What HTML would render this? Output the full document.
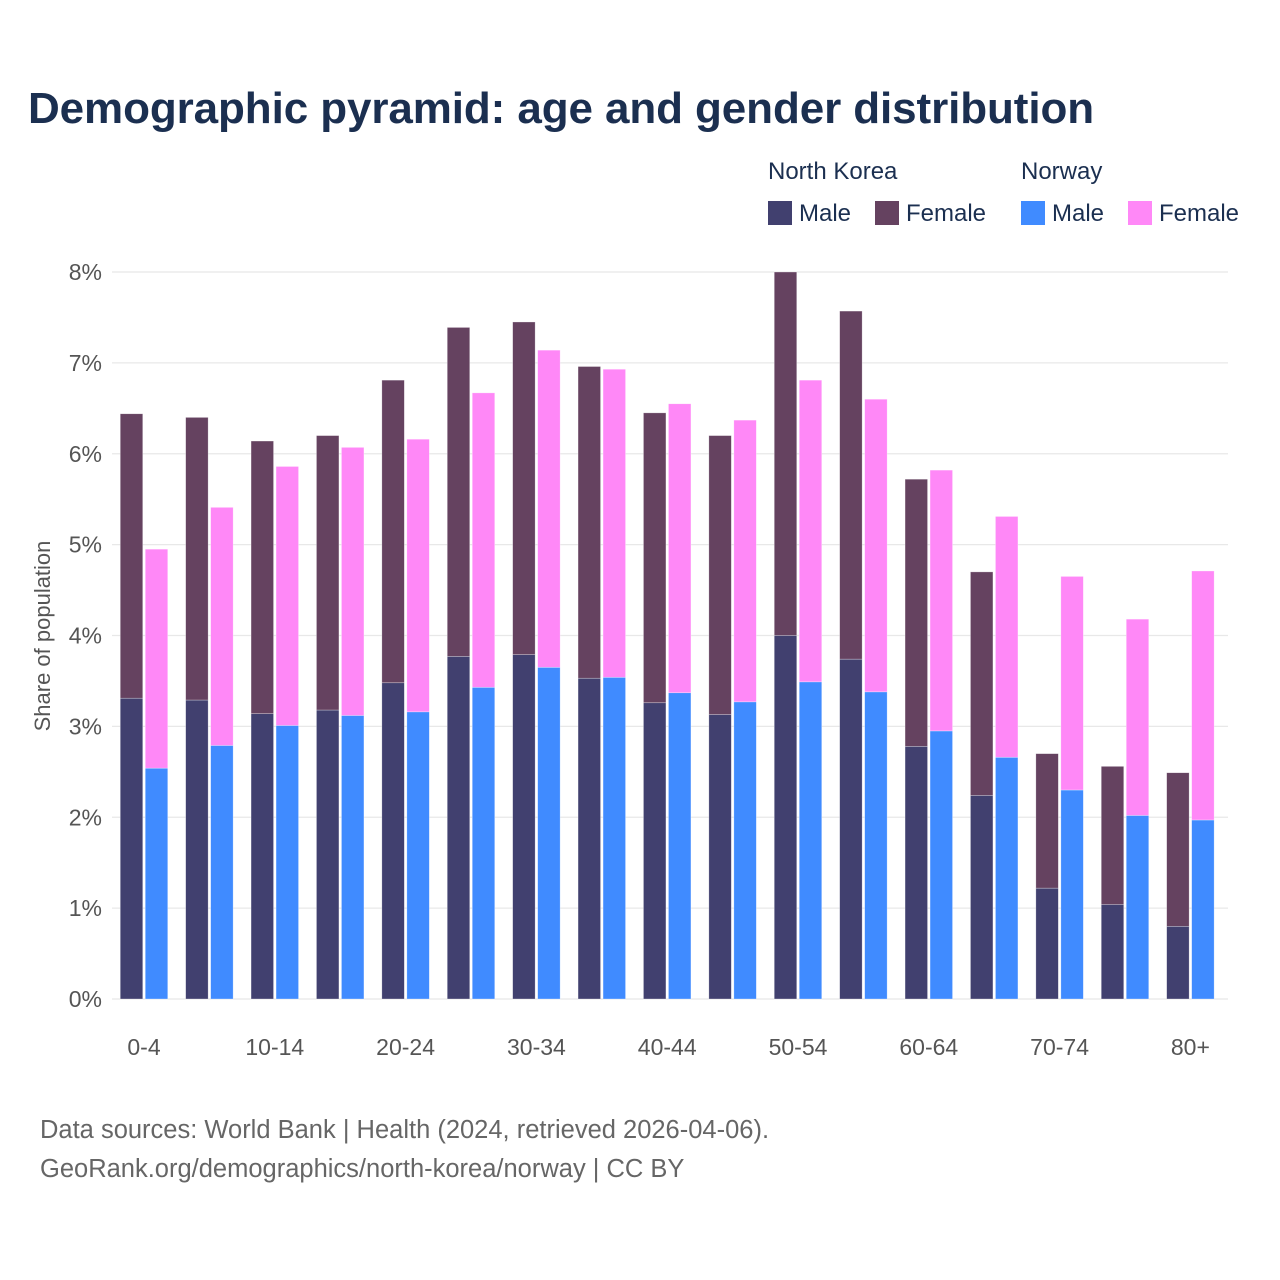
<!DOCTYPE html>
<html><head><meta charset="utf-8"><style>
body{margin:0;background:#fff;font-family:"Liberation Sans",sans-serif;}
#wrap{position:relative;width:1280px;height:1280px;overflow:hidden;}
.t{position:absolute;white-space:nowrap;}
</style></head><body>
<div id="wrap">
<div class="t" style="left:28px;top:84px;font-size:44px;font-weight:bold;color:#1b2f50;letter-spacing:-0.1px">Demographic pyramid: age and gender distribution</div>
<div class="t" style="left:768px;top:158px;font-size:24px;color:#1b2f50">North Korea</div>
<div class="t" style="left:1021px;top:158px;font-size:24px;color:#1b2f50">Norway</div>
<div style="position:absolute;left:768px;top:201px;width:24px;height:24px;background:#41406f"></div>
<div class="t" style="left:799px;top:200px;font-size:24px;color:#1b2f50">Male</div>
<div style="position:absolute;left:875px;top:201px;width:24px;height:24px;background:#654260"></div>
<div class="t" style="left:906px;top:200px;font-size:24px;color:#1b2f50">Female</div>
<div style="position:absolute;left:1021px;top:201px;width:24px;height:24px;background:#408bff"></div>
<div class="t" style="left:1052px;top:200px;font-size:24px;color:#1b2f50">Male</div>
<div style="position:absolute;left:1128px;top:201px;width:24px;height:24px;background:#ff88f7"></div>
<div class="t" style="left:1159px;top:200px;font-size:24px;color:#1b2f50">Female</div>
<svg id="chart" width="1280" height="1280" style="position:absolute;left:0;top:0"></svg>
<div class="t" style="left:40px;top:1116px;font-size:25.5px;color:#666">Data sources: World Bank | Health (2024, retrieved 2026-04-06).</div>
<div class="t" style="left:40px;top:1155px;font-size:25.5px;color:#666">GeoRank.org/demographics/north-korea/norway | CC BY</div>
</div>
<script>
const categories=["0-4","5-9","10-14","15-19","20-24","25-29","30-34","35-39","40-44","45-49","50-54","55-59","60-64","65-69","70-74","75-79","80+"];
const nkMale=[3.31,3.29,3.14,3.18,3.48,3.77,3.79,3.53,3.26,3.13,4.0,3.74,2.78,2.24,1.22,1.04,0.80];
const nkTotal=[6.44,6.40,6.14,6.20,6.81,7.39,7.45,6.96,6.45,6.20,8.0,7.57,5.72,4.70,2.70,2.56,2.49];
const noMale=[2.54,2.79,3.01,3.12,3.16,3.43,3.65,3.54,3.37,3.27,3.49,3.38,2.95,2.66,2.30,2.02,1.97];
const noTotal=[4.95,5.41,5.86,6.07,6.16,6.67,7.14,6.93,6.55,6.37,6.81,6.60,5.82,5.31,4.65,4.18,4.71];
const yTicks=[0,1,2,3,4,5,6,7,8];
const yTickLabels=["0%","1%","2%","3%","4%","5%","6%","7%","8%"];

const svg=document.getElementById('chart');
const NS='http://www.w3.org/2000/svg';
const x0=111.3,pitch=65.4,y0=999,pxPer=90.875;
const y=v=>y0-v*pxPer;
const bw=22.5,gap=2.5,pad=(pitch-2*bw-gap)/2;
function mk(tag,attrs){const e=document.createElementNS(NS,tag);for(const k in attrs)e.setAttribute(k,attrs[k]);svg.appendChild(e);return e;}
yTicks.forEach((t,i)=>{
  const l=mk('line',{x1:112,x2:1228,y1:y(t),y2:y(t),stroke:'#e8e8e8','stroke-width':1.3});
  
  
  const tx=mk('text',{x:102,y:y(t)+8,'text-anchor':'end','font-size':23,fill:'#555','font-family':'Liberation Sans, sans-serif'});
  tx.textContent=yTickLabels[i];
  
  
});
const yt=mk('text',{x:0,y:0,'text-anchor':'middle','font-size':22,fill:'#555','font-family':'Liberation Sans, sans-serif',transform:'translate(50,636) rotate(-90)'});
yt.textContent='Share of population';


function bar(x,v0,v1,fill,name){
  const r=mk('rect',{x:x,y:y(v1),width:bw,height:y(v0)-y(v1),fill:fill,stroke:'rgba(255,255,255,0.5)','stroke-width':0.6});
  
  
}
categories.forEach((c,i)=>{
  const gx=x0+i*pitch+pad;
  bar(gx,0,nkMale[i],'#41406f','bar-nk-male-'+c);
  bar(gx,nkMale[i],nkTotal[i],'#654260','bar-nk-female-'+c);
  bar(gx+bw+gap,0,noMale[i],'#408bff','bar-no-male-'+c);
  bar(gx+bw+gap,noMale[i],noTotal[i],'#ff88f7','bar-no-female-'+c);
  if(i%2===0){
    const t=mk('text',{x:x0+i*pitch+pitch/2,y:1055,'text-anchor':'middle','font-size':23,fill:'#555','font-family':'Liberation Sans, sans-serif'});
    t.textContent=c;
    
    
  }
});
</script>
</body></html>
